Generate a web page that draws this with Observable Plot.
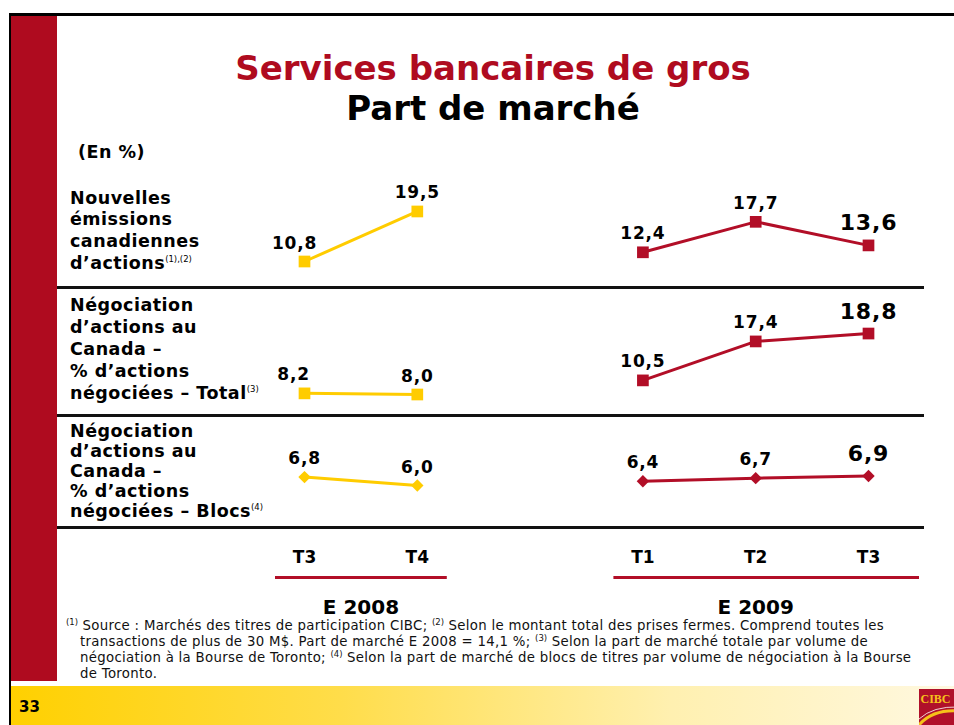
<!DOCTYPE html>
<html><head><meta charset="utf-8">
<script src="https://cdn.jsdelivr.net/npm/d3@7"></script>
<script src="https://cdn.jsdelivr.net/npm/@observablehq/plot@0.6"></script>
<style>
html,body{margin:0;padding:0;background:#fff;}
#page{position:relative;width:954px;height:725px;overflow:hidden;background:#fff;font-family:"DejaVu Sans",Verdana,sans-serif;color:#000;}
.abs{position:absolute;}
.rowlab{position:absolute;left:70px;font-weight:bold;font-size:17.5px;letter-spacing:0.5px;white-space:nowrap;}
.rowlab sup{font-size:8.5px;font-weight:normal;line-height:0;vertical-align:7px;letter-spacing:0;}
.sep{position:absolute;left:57px;width:867px;height:3px;background:#111;}
.title{position:absolute;left:0;width:986px;text-align:center;font-weight:bold;font-size:34px;line-height:40px;white-space:nowrap;}
#foot{position:absolute;left:66px;top:618px;font-size:13.3px;letter-spacing:0.3px;line-height:16px;white-space:nowrap;color:#111;}
#foot sup{font-size:8.5px;line-height:0;vertical-align:5px;letter-spacing:0;}
</style></head><body><div id="page"></div>
<script>
// ---- data ----
const years = ["E 2008", "E 2009"];
const quarters = ["T3", "T4", "T1", "T2", "T3"];
const quarterYears = ["E 2008", "E 2008", "E 2009", "E 2009", "E 2009"];
const emissions = [10.8, 19.5, 12.4, 17.7, 13.6];   // Nouvelles émissions canadiennes d'actions
const negoTotal = [8.2, 8.0, 10.5, 17.4, 18.8];     // Négociation – Total
const negoBlocs = [6.8, 6.0, 6.4, 6.7, 6.9];        // Négociation – Blocs

const YELLOW = "#FFCC00", RED = "#B20E27", BAR = "#AF0B1F";
const fmt = v => d3.format(".1f")(v).replace(".", ",");
// timeline slot: quarter order plus one empty slot between fiscal years
const slots = quarters.map((q, i) => i + years.indexOf(quarterYears[i]));
const slotDomain = [d3.min(slots), d3.max(slots)];

const page = document.getElementById("page");
function add(html) { page.insertAdjacentHTML("beforeend", html); }

// ---- slide frame ----
add(`<div class="abs" style="left:11px;top:16px;width:46px;height:665px;background:${BAR}"></div>`);
add(`<div class="abs" style="left:9px;top:13px;width:945px;height:3px;background:#000"></div>`);
add(`<div class="abs" style="left:9px;top:13px;width:2px;height:712px;background:#000"></div>`);
add(`<div class="abs" style="left:11px;top:686px;width:943px;height:39px;background:linear-gradient(90deg,#FFD000 0%,#FFDD4A 35%,#FFF0B0 70%,#FFF8E0 100%)"></div>`);
add(`<div class="abs" style="left:19px;top:697px;font-weight:bold;font-size:15px;line-height:20px">33</div>`);
add(`<div class="abs" style="left:919px;top:689px;width:35px;height:36px;background:#B0102A;overflow:hidden">
<svg width="35" height="36"><text x="1.5" y="14" font-family="Liberation Serif, serif" font-size="12" font-weight="bold" fill="#F6C21A">CIBC</text>
<path d="M0,36 Q14,20 40,22" stroke="#F6C21A" stroke-width="3" fill="none"/><path d="M0,30 Q14,17 40,18" stroke="#fff" stroke-width="1" fill="none" opacity="0.8"/></svg></div>`);

// ---- titles ----
add(`<div class="title" style="top:48px;color:${BAR}">Services bancaires de gros</div>`);
add(`<div class="title" style="top:88px;color:#000">Part de marché</div>`);
add(`<div class="rowlab" style="top:141.5px;left:78px;line-height:21.9px">(En %)</div>`);

// ---- row labels ----
add(`<div class="rowlab" style="top:187.5px;line-height:21.9px">Nouvelles<br>émissions<br>canadiennes<br>d’actions<sup>(1),(2)</sup></div>`);
add(`<div class="rowlab" style="top:293.7px;line-height:22.15px">Négociation<br>d’actions au<br>Canada –<br>% d’actions<br>négociées – Total<sup>(3)</sup></div>`);
add(`<div class="rowlab" style="top:421.4px;line-height:20px">Négociation<br>d’actions au<br>Canada –<br>% d’actions<br>négociées – Blocs<sup>(4)</sup></div>`);

// ---- separators ----
for (const t of [286, 414, 526]) add(`<div class="sep" style="top:${t}px"></div>`);

// ---- row charts ----
function rowPlot(values, o) {
  const data = quarters.map((q, i) => ({i, q, year: quarterYears[i], slot: slots[i], v: values[i],
    color: quarterYears[i] === years[0] ? YELLOW : RED, last: i === quarters.length - 1}));
  const textBase = {x: "slot", y: "v", text: d => fmt(d.v), lineAnchor: "bottom", fontWeight: "bold", fill: "#000"};
  const chart = Plot.plot({
    width: 954, height: o.height,
    marginLeft: 304, marginRight: 86, marginTop: o.marginTop, marginBottom: o.marginBottom,
    x: {domain: slotDomain, axis: null},
    y: {domain: o.domain, axis: null},
    color: {type: "identity"},
    style: {background: "transparent", fontFamily: "DejaVu Sans, Verdana, sans-serif", letterSpacing: "0.8px", overflow: "visible"},
    marks: [
      Plot.line(data, {x: "slot", y: "v", z: "year", stroke: "color", strokeWidth: 3}),
      Plot.dot(data, {x: "slot", y: "v", symbol: o.symbol, r: o.r, fill: "color", stroke: "none"}),
      Plot.text(data, {...textBase, filter: d => !d.last && d.i !== 0, dy: -13, fontSize: 17}),
      Plot.text(data, {...textBase, filter: d => d.i === 0, dy: -13, dx: o.firstDx, fontSize: 17}),
      Plot.text(data, {...textBase, filter: d => d.last, dy: -15, fontSize: 22})
    ]
  });
  chart.style.position = "absolute";
  chart.style.left = "0px";
  chart.style.top = o.top + "px";
  page.appendChild(chart);
}
rowPlot(emissions, {top: 140, height: 147, domain: [10, 20], marginTop: 68.1, marginBottom: 21.4, symbol: "square", r: 6.6, firstDx: -10});
rowPlot(negoTotal, {top: 287, height: 128, domain: [8, 19], marginTop: 44.9, marginBottom: 21, symbol: "square", r: 6.6, firstDx: -11});
rowPlot(negoBlocs, {top: 415, height: 112, domain: [6, 7], marginTop: 59.5, marginBottom: 42, symbol: "diamond2", r: 5.6, firstDx: 0});

// ---- time axis: quarters, year underline, year labels ----
{
  const qdata = quarters.map((q, i) => ({q, year: quarterYears[i], slot: slots[i]}));
  const ydata = years.map(y => {
    const s = qdata.filter(d => d.year === y).map(d => d.slot);
    return {year: y, first: d3.min(s), last: d3.max(s), mid: d3.mean(s)};
  });
  const chart = Plot.plot({
    width: 954, height: 100,
    marginLeft: 304, marginRight: 86, marginTop: 0, marginBottom: 0,
    x: {domain: slotDomain, axis: null},
    y: {type: "point", domain: ["quarter", "rule", "year"], range: [30, 80], padding: 0, axis: null},
    style: {background: "transparent", fontFamily: "DejaVu Sans, Verdana, sans-serif", overflow: "visible"},
    marks: [
      Plot.text(qdata, {x: "slot", y: () => "quarter", text: "q", fontWeight: "bold", fontSize: 17, fill: "#000", style: "letter-spacing:1px"}),
      Plot.ruleY(ydata, {filter: d => d.year === years[0], x1: "first", x2: "last", y: () => "rule", dy: -5, stroke: RED, strokeWidth: 3, insetLeft: -29, insetRight: -30}),
      Plot.ruleY(ydata, {filter: d => d.year === years[1], x1: "first", x2: "last", y: () => "rule", dy: -5, stroke: RED, strokeWidth: 3, insetLeft: -29, insetRight: -51}),
      Plot.text(ydata, {x: "mid", y: () => "year", text: "year", fontWeight: "bold", fontSize: 20, fill: "#000"})
    ]
  });
  chart.style.position = "absolute";
  chart.style.left = "0px";
  chart.style.top = "527px";
  page.appendChild(chart);
}

// ---- footnotes ----
add(`<div id="foot"><sup>(1)</sup> Source : Marchés des titres de participation CIBC; <sup>(2)</sup> Selon le montant total des prises fermes. Comprend toutes les<br>
<span style="padding-left:14px">transactions de plus de 30 M$. Part de marché E 2008 = 14,1 %; <sup>(3)</sup> Selon la part de marché totale par volume de</span><br>
<span style="padding-left:14px">négociation à la Bourse de Toronto; <sup>(4)</sup> Selon la part de marché de blocs de titres par volume de négociation à la Bourse</span><br>
<span style="padding-left:14px">de Toronto.</span></div>`);
</script>
</body></html>
